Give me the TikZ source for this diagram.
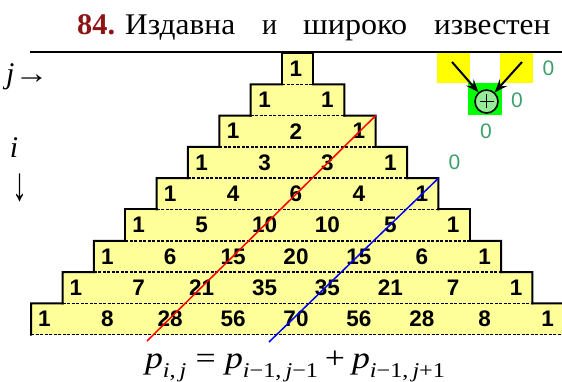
\documentclass[tikz,border=0pt]{standalone}
\usepackage{fontspec}
\setmainfont{Liberation Serif}
\newfontfamily\numfont{Liberation Sans}
\usetikzlibrary{arrows.meta}
\definecolor{paleyel}{RGB}{255,255,153}
\definecolor{brightyel}{RGB}{255,255,0}
\definecolor{brightgrn}{RGB}{0,255,0}
\definecolor{circgrn}{RGB}{150,235,150}
\definecolor{zerogrn}{RGB}{60,160,110}
\definecolor{titlered}{RGB}{140,20,20}
\newcommand\subsc[1]{\raisebox{-0.3em}{\fontsize{21}{21}\selectfont #1}}
\tikzset{
  rowbox/.style={draw=none, fill=paleyel, inner sep=0pt, outer sep=0pt},
  edge/.style={line width=2pt, line join=miter, line cap=rect},
  dashedge/.style={line width=1.4pt, dash pattern=on 3pt off 1.5pt},
  val/.style={font=\numfont\bfseries\fontsize{22.5}{22.5}\selectfont, inner sep=0pt},
  zero/.style={font=\numfont\fontsize{21}{21}\selectfont, text=zerogrn, inner sep=0pt},
  ttl/.style={font=\fontsize{30}{30}\selectfont, inner sep=0pt, anchor=base west},
  arr/.style={line width=2pt, -{Stealth[length=13pt,width=10pt,inset=5pt]}},
}
\begin{document}
\begin{tikzpicture}[x=1pt,y=-1pt]
\useasboundingbox (0,0) rectangle (562,382);
\clip (0,0) rectangle (562,382);
% title
\node[ttl, text=titlered, font=\fontsize{30}{30}\selectfont\bfseries] (t0) at (77,35) {\resizebox{38pt}{\height}{84.}};
\node[ttl] (t1) at (125,35) {\resizebox{110pt}{\height}{Издавна}};
\node[ttl] (t2) at (262,35) {\resizebox{15pt}{\height}{и}};
\node[ttl] (t3) at (303,35) {\resizebox{104pt}{\height}{широко}};
\node[ttl] (t4) at (434,35) {\resizebox{116pt}{\height}{известен}};
% row boxes
\foreach \k in {1,...,9} {
  \pgfmathsetmacro\rowwd{31+62.7*(\k-1)}
  \pgfmathsetmacro\rowyc{53+31.3*(\k-1)+15.65}
  \node[rowbox, minimum width=\rowwd pt, minimum height=31.3pt] (r\k) at (297.5,\rowyc) {};
}
\draw[edge] (r1.south west) -- (r1.north west) -- (r1.north east) -- (r1.south east);
\foreach \k [evaluate=\k as \p using int(\k-1)] in {2,...,9} {
  \draw[edge] (r\k.south west) -- (r\k.north west) -- (r\p.south west);
  \draw[edge] (r\p.south east) -- (r\k.north east) -- (r\k.south east);
}
\foreach \k in {1,...,9} \draw[dashedge] (r\k.south west) -- (r\k.south east);
% values
\foreach \row [count=\k] in {{1},{1,1},{1,2,1},{1,3,3,1},{1,4,6,4,1},{1,5,10,10,5,1},{1,6,15,20,15,6,1},{1,7,21,35,35,21,7,1},{1,8,28,56,70,56,28,8,1}} {
  \foreach \v [count=\m from 0] in \row {
    \pgfmathsetmacro\xv{296+31.45*(2*\m-(\k-1))}
    \pgfmathsetmacro\yv{68.65+31.3*(\k-1)}
    \node[val] (v\k-\m) at (\xv,\yv) {\v};
  }
}
% diagonal lines
\coordinate (redend) at (147,341);
\coordinate (blueend) at (269,342);
\draw[red, line width=1.5pt] (r3.north east) -- (redend);
\draw[blue, line width=1.5pt] (r5.north east) -- (blueend);
% top rule
\coordinate (hl1) at (30,52);
\coordinate (hl2) at (562,52);
\draw[line width=2pt] (hl1) -- (hl2);
% axis labels
\node[inner sep=0pt, font=\fontsize{30}{30}\selectfont, anchor=base west] (jlab) at (6,84) {\itshape j\upshape\resizebox{34pt}{\height}{→}};
\node[inner sep=0pt, font=\fontsize{30}{30}\selectfont\itshape] (ilab) at (14,148) {i};
\node[inner sep=0pt, font=\fontsize{30}{30}\selectfont] (darr) at (20,188) {\resizebox*{\width}{28pt}{↓}};
% scheme top right
\node[fill=brightyel, minimum width=33pt, minimum height=30pt, inner sep=0pt] (ys1) at (453.5,68) {};
\node[fill=brightyel, minimum width=33pt, minimum height=30pt, inner sep=0pt] (ys2) at (516.5,68) {};
\node[fill=brightgrn, minimum width=34pt, minimum height=32pt, inner sep=0pt] (gs) at (485,99.5) {};
\node[circle, draw, line width=1.6pt, fill=circgrn, minimum size=23pt, inner sep=0pt,
  path picture={\draw[line width=1.6pt] ([xshift=-7pt]path picture bounding box.center) -- ([xshift=7pt]path picture bounding box.center);
                \draw[line width=1.6pt] ([yshift=-7pt]path picture bounding box.center) -- ([yshift=7pt]path picture bounding box.center);}] (plus) at (486.5,101.5) {};
\coordinate (a1) at (452,62);
\coordinate (a2) at (522,62);
\draw[arr] (a1) -- (plus);
\draw[arr] (a2) -- (plus);
\node[zero] (z1) at (548.5,68.6) {0};
\node[zero] (z2) at (517,99.9) {0};
\node[zero] (z3) at (486,131.2) {0};
\node[zero] (z4) at (454.5,162.5) {0};
% formula
\node[inner sep=0pt, anchor=base, font=\fontsize{31}{31}\selectfont] (form) at (295,368)
 {\resizebox{300pt}{\height}{\itshape p\subsc{\itshape i\upshape,\,\itshape j}\upshape\hspace{8pt}=\hspace{8pt}\itshape p\subsc{\itshape i\upshape−1,\,\itshape j\upshape−1}\upshape\hspace{6pt}+\hspace{6pt}\itshape p\subsc{\itshape i\upshape−1,\,\itshape j\upshape+1}}};
\end{tikzpicture}
\end{document}
